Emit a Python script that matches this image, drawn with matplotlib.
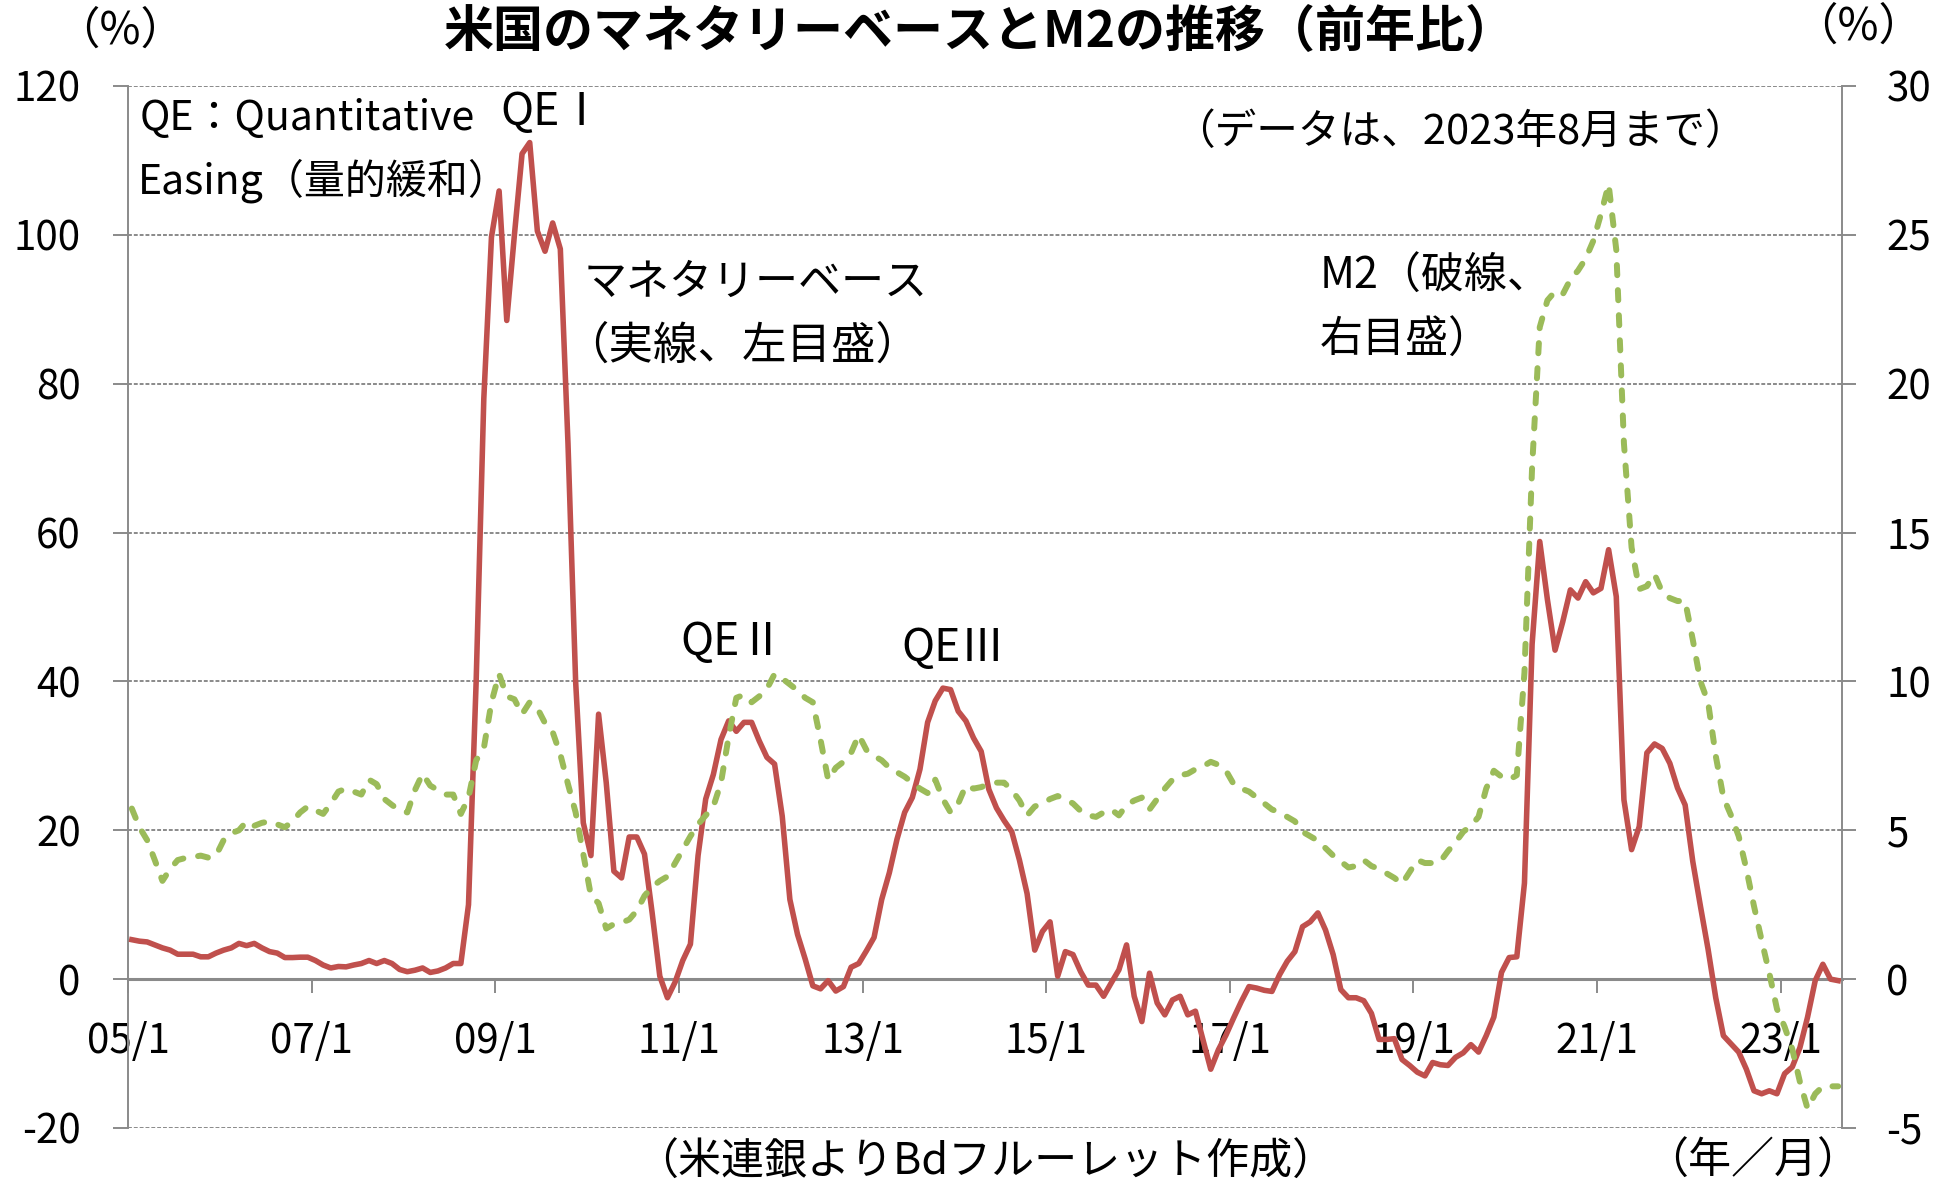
import numpy as np
import matplotlib
matplotlib.use("Agg")
import matplotlib.pyplot as plt

plt.rcParams['font.family'] = ['Noto Sans CJK JP', 'DejaVu Sans']
plt.rcParams['axes.unicode_minus'] = False

# monthly, 2005/1 .. 2023/8 (224 months), year-on-year %
monetary_base = [
    5.3, 5.1, 5.0, 4.6, 4.2, 3.9, 3.35, 3.35, 3.35, 3.0, 3.0, 3.5,          # 2005
    3.9, 4.2, 4.8, 4.5, 4.8, 4.2, 3.7, 3.5, 2.9, 2.9, 2.95, 2.95,          # 2006
    2.5, 1.9, 1.5, 1.7, 1.65, 1.9, 2.1, 2.5, 2.1, 2.5, 2.1, 1.3,           # 2007
    1.0, 1.2, 1.5, 0.9, 1.1, 1.5, 2.1, 2.1, 10.0, 40.0, 78.0, 99.7,        # 2008
    105.9, 88.5, 100.0, 110.9, 112.4, 100.5, 97.8, 101.6, 98.1, 72.0, 40.0, 21.0,  # 2009
    16.6, 35.6, 26.4, 14.5, 13.6, 19.1, 19.1, 16.8, 8.9, 0.4, -2.5, -0.4,  # 2010
    2.5, 4.7, 16.6, 24.2, 27.5, 32.2, 34.7, 33.3, 34.5, 34.5, 32.0, 29.8,  # 2011
    28.9, 21.9, 10.7, 6.0, 2.7, -0.9, -1.3, -0.2, -1.6, -1.0, 1.6, 2.1,    # 2012
    3.8, 5.6, 10.7, 14.3, 18.8, 22.4, 24.4, 28.2, 34.5, 37.4, 39.1, 38.9,  # 2013
    36.0, 34.7, 32.4, 30.6, 25.5, 23.0, 21.3, 19.8, 16.0, 11.5, 3.9, 6.4,  # 2014
    7.7, 0.4, 3.7, 3.3, 1.0, -0.8, -0.8, -2.3, -0.5, 1.25, 4.6, -2.3,      # 2015
    -5.7, 0.8, -3.2, -4.8, -2.8, -2.3, -4.8, -4.3, -8.2, -12.1, -9.5, -7.5,  # 2016
    -5.2, -3.0, -1.0, -1.2, -1.5, -1.65, 0.6, 2.4, 3.7, 7.05, 7.7, 8.9,    # 2017
    6.6, 3.3, -1.4, -2.5, -2.5, -2.9, -4.6, -8.1, -8.1, -8.0, -10.8, -11.6,  # 2018
    -12.5, -13.0, -11.2, -11.5, -11.6, -10.5, -9.9, -8.8, -9.8, -7.6, -5.1, 0.9,  # 2019
    2.9, 3.0, 12.9, 45.0, 58.8, 51.0, 44.2, 48.0, 52.3, 51.2, 53.4, 51.9,  # 2020
    52.5, 57.7, 51.4, 24.1, 17.4, 20.5, 30.4, 31.6, 31.0, 29.0, 25.7, 23.4,  # 2021
    15.8, 9.8, 4.0, -2.5, -7.6, -8.7, -9.8, -12.1, -15.0, -15.4, -15.0, -15.4,  # 2022
    -12.7, -11.8, -9.2, -5.1, -0.2, 2.0, 0.0, -0.2,                        # 2023
]

m2 = [
    5.73, 5.1, 4.67, 4.0, 3.3, 3.7, 4.0, 4.07, 4.1, 4.15, 4.08, 4.15,
    4.67, 4.9, 5.0, 5.3, 5.15, 5.25, 5.3, 5.2, 5.1, 5.3, 5.6, 5.8,
    5.67, 5.55, 5.9, 6.3, 6.4, 6.3, 6.2, 6.7, 6.55, 6.05, 5.85, 5.67,
    5.6, 6.35, 6.9, 6.5, 6.35, 6.2, 6.2, 5.55, 6.1, 7.35, 7.75, 9.3,
    10.25, 9.5, 9.4, 8.9, 9.3, 9.1, 8.6, 8.3, 7.55, 6.55, 5.6, 4.2,
    2.8, 2.55, 1.7, 1.85, 1.9, 2.0, 2.3, 2.8, 3.1, 3.3, 3.45, 3.9,
    4.35, 4.8, 5.2, 5.5, 5.8, 6.6, 8.15, 9.45, 9.55, 9.3, 9.5, 9.75,
    10.25, 10.1, 9.9, 9.7, 9.45, 9.3, 8.05, 6.7, 7.1, 7.3, 7.6, 8.2,
    7.7, 7.5, 7.35, 7.1, 6.95, 6.8, 6.6, 6.4, 6.25, 6.7, 6.05, 5.6,
    5.9, 6.5, 6.4, 6.45, 6.55, 6.6, 6.6, 6.35, 6.0, 5.5, 5.8, 5.9,
    6.05, 6.15, 6.05, 5.9, 5.65, 5.5, 5.45, 5.6, 5.7, 5.5, 5.85, 6.0,
    6.1, 5.7, 6.05, 6.4, 6.7, 6.85, 6.9, 7.05, 7.15, 7.3, 7.2, 7.0,
    6.55, 6.4, 6.3, 6.1, 5.9, 5.7, 5.6, 5.45, 5.3, 4.95, 4.8, 4.65,
    4.4, 4.15, 3.95, 3.75, 3.8, 4.0, 3.8, 3.7, 3.55, 3.4, 3.2, 3.6,
    4.0, 3.9, 3.9, 3.95, 4.3, 4.6, 4.95, 5.15, 5.45, 6.4, 7.0, 6.8,
    6.7, 6.85, 10.3, 17.2, 21.9, 22.8, 23.1, 23.0, 23.5, 23.8, 24.2, 24.8,
    25.7, 26.7, 24.5, 18.0, 14.5, 13.1, 13.2, 13.6, 13.0, 12.8, 12.7, 12.7,
    11.4, 10.0, 9.3, 7.5, 6.1, 5.5, 4.8, 3.7, 2.45, 1.3, 0.2, -1.0,
    -1.6, -2.35, -3.45, -4.35, -3.85, -3.6, -3.6, -3.6,
]

xtick_labels = ['05/1', '07/1', '09/1', '11/1', '13/1', '15/1', '17/1', '19/1', '21/1', '23/1']
left_ticks = list(range(-20, 121, 20))
right_ticks = list(range(-5, 31, 5))

RED = '#C0504D'
GREEN = '#9BBB59'
GRAY = '#8a8a8a'

W, H = 1954, 1194
def fx(px):
    return px / W
def fy(py):
    return 1 - py / H

fig = plt.figure(figsize=(W / 100, H / 100), dpi=100)
ax = fig.add_axes([fx(128), fy(1128), (1842 - 128) / W, (1128 - 86) / H])
ax2 = ax.twinx()

n = len(monetary_base)
x = np.arange(n) + 0.5

ax.plot(x, monetary_base, color=RED, lw=4.0, solid_joinstyle='round', zorder=3)
ax2.plot(x, m2, color=GREEN, lw=4.3, linestyle=(0, (1.7, 2.5)),
         dash_capstyle='round', dash_joinstyle='round', zorder=3)

ax.set_xlim(0, n)
ax.set_ylim(-20, 120)
ax2.set_ylim(-5, 30)

ax.set_yticks(left_ticks)
ax2.set_yticks(right_ticks)
ax.set_xticks(np.arange(0, n, 24))
ax.set_xticklabels(xtick_labels)

ax.grid(axis='y', color=GRAY, lw=1.4, linestyle=(0, (2.0, 1.0)))
ax.set_axisbelow(True)

for s in ['top', 'right']:
    ax.spines[s].set_visible(False)
for s in ['top', 'bottom', 'left']:
    ax2.spines[s].set_visible(False)
ax.spines['bottom'].set_position(('data', 0))
ax.spines['bottom'].set_color(GRAY)
ax.spines['bottom'].set_linewidth(2.2)
ax.spines['left'].set_color(GRAY)
ax.spines['left'].set_linewidth(1.4)
ax2.spines['right'].set_color(GRAY)
ax2.spines['right'].set_linewidth(1.4)

ax.tick_params(axis='y', direction='out', length=11, width=1.4, color=GRAY,
               pad=23, labelsize=29)
ax2.tick_params(axis='y', direction='out', length=10, width=1.4, color=GRAY,
                pad=22, labelsize=29)
ax.tick_params(axis='x', direction='out', length=10, width=1.4, color=GRAY,
               pad=20, labelsize=29)

# annotations
fig.text(fx(980), fy(47), '米国のマネタリーベースとM2の推移（前年比）',
         fontsize=36, fontweight='bold', ha='center', va='baseline')
fig.text(fx(120), fy(31), '（%）', fontsize=32, ha='center', va='center')
fig.text(fx(1858), fy(27), '（%）', fontsize=32, ha='center', va='center')

fig.text(fx(140), fy(118), 'QE：Quantitative', fontsize=29.5, ha='left', va='center')
fig.text(fx(138), fy(181), 'Easing（量的緩和）', fontsize=29.5, ha='left', va='center')
fig.text(fx(500), fy(112), 'QEⅠ', fontsize=32, ha='left', va='center')
fig.text(fx(584), fy(283), 'マネタリーベース', fontsize=31, ha='left', va='center')
fig.text(fx(564), fy(346), '（実線、左目盛）', fontsize=32, ha='left', va='center')
fig.text(fx(1460), fy(133), '（データは、2023年8月まで）', fontsize=30, ha='center', va='center')
fig.text(fx(1320), fy(277), 'M2（破線、', fontsize=31, ha='left', va='center')
fig.text(fx(1320), fy(341), '右目盛）', fontsize=31, ha='left', va='center')
fig.text(fx(680), fy(642), 'QEⅡ', fontsize=32, ha='left', va='center')
fig.text(fx(901), fy(648), 'QEⅢ', fontsize=32, ha='left', va='center')
fig.text(fx(985), fy(1163), '（米連銀よりBdフルーレット作成）', fontsize=31, ha='center', va='center')
fig.text(fx(1753), fy(1162), '（年／月）', fontsize=31, ha='center', va='center')

fig.savefig('out.png', dpi=100)
